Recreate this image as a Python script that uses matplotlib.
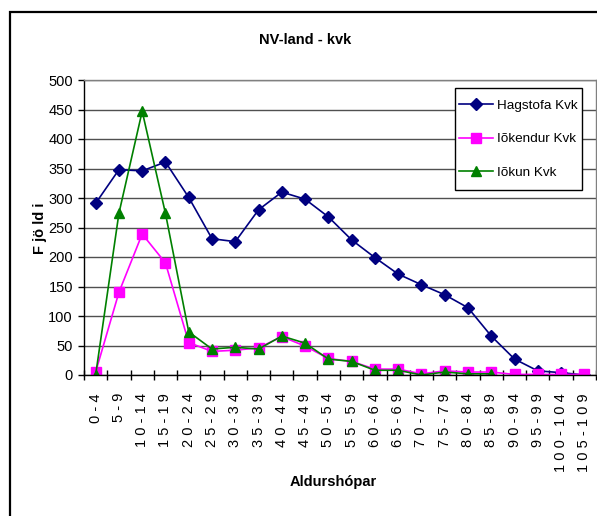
import matplotlib
matplotlib.use('Agg')
import matplotlib.pyplot as plt
import matplotlib.patches as patches

# Data
age_groups = ['0-4', '5-9', '10-14', '15-19', '20-24', '25-29', '30-34', '35-39',
              '40-44', '45-49', '50-54', '55-59', '60-64', '65-69', '70-74', '75-79',
              '80-84', '85-89', '90-94', '95-99', '100-104', '105-109']
hagstofa = [291, 348, 346, 361, 301, 231, 226, 280, 310, 298, 268, 229, 199, 171,
            153, 136, 114, 66, 27, 7, 4, 0]
idkendur = [5, 140, 239, 190, 55, 40, 42, 46, 65, 49, 28, 23, 10, 10, 2, 7, 5, 5,
            1, 1, 1, 1]
idkun = [0, 274, 447, 274, 73, 44, 47, 44, 66, 54, 27, 23, 8, 8, 0, 5, 2, 2]

plt.rcParams['font.family'] = ['Liberation Sans', 'DejaVu Sans']

fig = plt.figure(figsize=(5.97, 5.16), dpi=100)
ax = fig.add_axes([84 / 597, 1 - 375 / 516, (596 - 84) / 597, (375 - 80) / 516])

# Outer chart border (only top and left edges fall inside the image)
top = 1 - 12 / 516
border = patches.Rectangle((10 / 597, -0.2), 2, top + 0.2,
                           transform=fig.transFigure, fill=False,
                           edgecolor='black', linewidth=1.6)
fig.patches.append(border)

x = list(range(len(age_groups)))
ax.plot(x, hagstofa, color='#000080', marker='D', markersize=6, lw=1.2,
        label='Hagstofa Kvk', zorder=2)
ax.plot(x, idkendur, color='#FF00FF', marker='s', markersize=6.5, lw=1.2,
        label='Iõkendur Kvk', zorder=2.1)
ax.plot(x[:len(idkun)], idkun, color='#008000', marker='^', markersize=7, lw=1.2,
        label='Iõkun Kvk', zorder=2.2)

ax.set_xlim(-0.5, len(age_groups) - 0.5)
ax.set_ylim(0, 500)
ax.set_yticks(range(0, 501, 50))
ax.yaxis.grid(True, color='#505050', lw=1)
ax.set_axisbelow(True)

ax.set_xticks(x)
ax.set_xticklabels([' '.join(g) for g in age_groups], rotation=90, fontsize=10.5)
ax.set_xticks([i - 0.5 for i in range(len(age_groups) + 1)], minor=True)
ax.tick_params(axis='x', which='major', length=0, pad=13)
ax.tick_params(axis='x', which='minor', length=7, direction='inout', width=1)
ax.tick_params(axis='y', length=4, width=1, labelsize=10.5, pad=4)

for s in ['left', 'bottom']:
    ax.spines[s].set_color('black')
    ax.spines[s].set_linewidth(1)
for s in ['top', 'right']:
    ax.spines[s].set_color('#808080')
    ax.spines[s].set_linewidth(1)

fig.text(305 / 597, 1 - 40 / 516, 'NV-land - kvk', ha='center', va='center',
         fontsize=10.5, fontweight='bold')
fig.text(333 / 597, 1 - 482 / 516, 'Aldurshópar', ha='center', va='center',
         fontsize=10.5, fontweight='bold')
fig.text(40 / 597, 1 - 228 / 516, 'F jö ld i', ha='center', va='center',
         rotation=90, fontsize=10.5, fontweight='bold')

# Legend box (Excel style: tight sides, roomy rows)
lx0, lx1 = (455 - 84) / 512, (582 - 84) / 512
ly0, ly1 = (375 - 190) / 295, (375 - 88) / 295
box = patches.Rectangle((lx0, ly0), lx1 - lx0, ly1 - ly0, transform=ax.transAxes,
                        facecolor='white', edgecolor='black', lw=1, zorder=4)
ax.add_patch(box)
leg = ax.legend(loc='center', bbox_to_anchor=((lx0 + lx1) / 2, (ly0 + ly1) / 2),
                fontsize=9.7, frameon=False, borderpad=0.0, labelspacing=1.55,
                handlelength=2.5, handletextpad=0.3, borderaxespad=0)
leg.set_zorder(5)

fig.savefig('out.png', dpi=100, facecolor='white')
